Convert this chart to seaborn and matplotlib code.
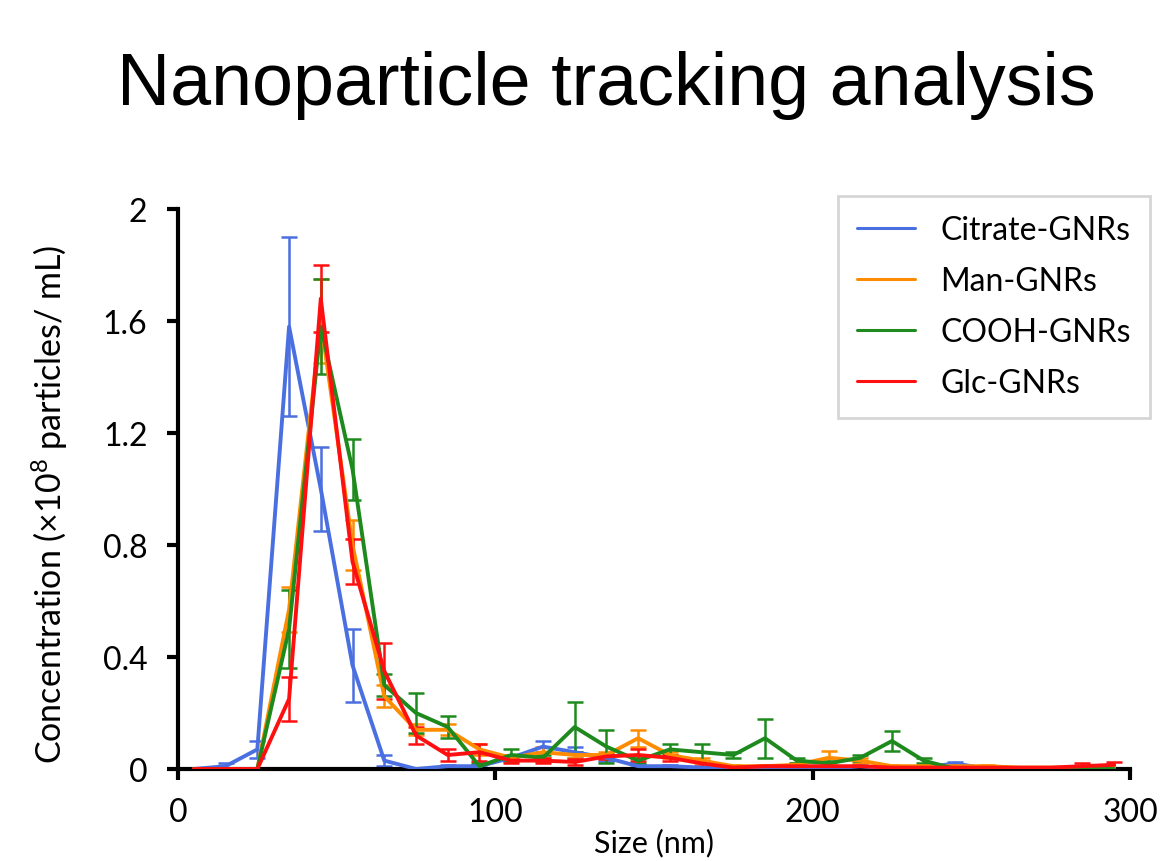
import numpy as np
import pandas as pd
import matplotlib
matplotlib.use("Agg")
import matplotlib.pyplot as plt
import seaborn as sns

sizes = list(range(5, 300, 10))

citrate = [0, 0.01, 0.07, 1.58, 1.0, 0.37, 0.03, 0.0, 0.01, 0.01, 0.04, 0.08, 0.06, 0.04, 0.01,
           0.01, 0.005, 0, 0, 0, 0, 0.01, 0, 0.005, 0.02, 0, 0, 0, 0, 0]
citrate_err = [0, 0.01, 0.03, 0.32, 0.15, 0.13, 0.02, 0, 0.005, 0.005, 0.01, 0.02, 0.02, 0.01, 0.005,
               0.005, 0, 0, 0, 0, 0, 0.005, 0, 0, 0.005, 0, 0, 0, 0, 0]

man = [0, 0, 0, 0.57, 1.6, 0.8, 0.26, 0.14, 0.14, 0.07, 0.04, 0.06, 0.05, 0.05, 0.11,
       0.05, 0.03, 0.01, 0.01, 0.015, 0.04, 0.03, 0.01, 0.01, 0.01, 0.01, 0.005, 0.005, 0.005, 0.005]
man_err = [0, 0, 0, 0.08, 0.15, 0.09, 0.04, 0.02, 0.02, 0.02, 0.01, 0.02, 0.01, 0.01, 0.03,
           0.01, 0.01, 0.005, 0.005, 0.005, 0.025, 0.01, 0.005, 0.005, 0.005, 0.005, 0, 0, 0, 0]

cooh = [0, 0, 0, 0.5, 1.58, 1.07, 0.3, 0.2, 0.15, 0.01, 0.05, 0.04, 0.15, 0.08, 0.03,
        0.07, 0.06, 0.05, 0.11, 0.03, 0.02, 0.04, 0.1, 0.03, 0.0, 0, 0, 0, 0, 0]
cooh_err = [0, 0, 0, 0.14, 0.17, 0.11, 0.04, 0.07, 0.04, 0.01, 0.02, 0.01, 0.09, 0.06, 0.01,
            0.02, 0.03, 0.01, 0.07, 0.01, 0.01, 0.01, 0.035, 0.01, 0, 0, 0, 0, 0, 0]

glc = [0, 0, 0, 0.25, 1.68, 0.74, 0.35, 0.12, 0.05, 0.06, 0.03, 0.03, 0.025, 0.045, 0.05,
       0.04, 0.02, 0.005, 0.01, 0.01, 0.01, 0.01, 0.005, 0.005, 0.005, 0.005, 0.005, 0.005, 0.01, 0.015]
glc_err = [0, 0, 0, 0.08, 0.12, 0.08, 0.1, 0.03, 0.02, 0.03, 0.01, 0.01, 0.01, 0.01, 0.02,
           0.01, 0.01, 0, 0, 0, 0, 0, 0, 0, 0, 0, 0, 0, 0.01, 0.01]

series_names = ["Citrate-GNRs", "Man-GNRs", "COOH-GNRs", "Glc-GNRs"]
series_vals = [citrate, man, cooh, glc]
series_errs = [citrate_err, man_err, cooh_err, glc_err]
colors = ["#4a6fe0", "#ff8c00", "#1e8a1e", "#ff1010"]

df = pd.concat([pd.DataFrame({"Size": sizes, "Conc": v, "Err": e, "Sample": n})
                for n, v, e in zip(series_names, series_vals, series_errs)], ignore_index=True)

sns.set_style("ticks")
plt.rcParams["font.family"] = ["Lato", "DejaVu Sans"]
plt.rcParams["mathtext.default"] = "regular"
plt.rcParams["text.color"] = "black"
plt.rcParams["axes.labelcolor"] = "black"
plt.rcParams["xtick.color"] = "black"
plt.rcParams["ytick.color"] = "black"

fig = plt.figure(figsize=(11.6, 8.62), dpi=100)
ax = fig.add_axes([178/1160, 1 - 770/862, 952/1160, 560/862])

for n, c in zip(series_names, colors):
    sub = df[df["Sample"] == n]
    ax.errorbar(sub["Size"], sub["Conc"], yerr=sub["Err"], fmt="none", ecolor=c,
                elinewidth=1.8, capsize=5.5, capthick=1.8, zorder=2)

sns.lineplot(data=df, x="Size", y="Conc", hue="Sample", hue_order=series_names,
             palette=colors, linewidth=2.8, ax=ax, zorder=3)

ax.set_xlim(0, 300)
ax.set_ylim(0, 2)
ax.set_xticks([0, 100, 200, 300])
ax.set_yticks([0, 0.4, 0.8, 1.2, 1.6, 2])
ax.set_yticklabels(["0", "0.4", "0.8", "1.2", "1.6", "2"])
ax.tick_params(axis="both", labelsize=23, width=3, length=8, color="black",
               labelcolor="black")
ax.tick_params(axis="y", pad=14)
ax.tick_params(axis="x", pad=12)
for s in ["top", "right"]:
    ax.spines[s].set_visible(False)
for s in ["left", "bottom"]:
    ax.spines[s].set_linewidth(3)
    ax.spines[s].set_color("black")

ax.set_ylabel("Concentration (×10$^8$ particles/ mL)", fontsize=24.5, color="black")
ax.yaxis.set_label_coords(-0.113, 0.475)
ax.set_xlabel("Size (nm)", fontsize=22, color="black")
ax.xaxis.set_label_coords(0.5, -0.105)

leg = ax.legend(loc="upper left", bbox_to_anchor=(838/1160, 1 - 197/862),
                bbox_transform=fig.transFigure, fontsize=23, frameon=True,
                fancybox=False, edgecolor="#cccccc", handlelength=1.8,
                borderpad=0.6, labelspacing=0.66, handletextpad=0.8, borderaxespad=0)
leg.get_frame().set_linewidth(2)
for line in leg.get_lines():
    line.set_linewidth(2.2)

fig.text(606/1160, 1 - 85/862, "Nanoparticle tracking analysis", fontsize=53,
         family="Liberation Sans", ha="center", va="center", color="black")

fig.savefig("out.png", dpi=100)
